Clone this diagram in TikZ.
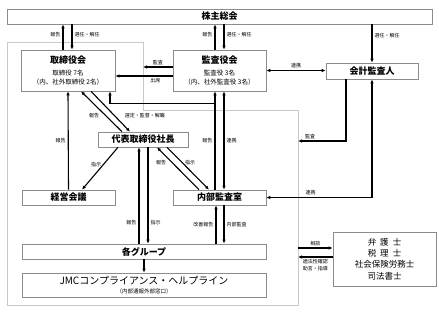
\documentclass[tikz,border=0pt]{standalone}
\usepackage{fontspec}
\setmainfont{Noto Sans CJK JP}
\usetikzlibrary{arrows.meta, positioning, calc}
\definecolor{grisMarco}{HTML}{C8C8C8}
\definecolor{grisCaja}{HTML}{8C8C8C}
\newcommand{\chico}{\mdseries\fontsize{6.5}{8}\selectfont}

\begin{document}
\begin{tikzpicture}[x=1pt, y=-1pt,
        caja/.style={draw=grisCaja, fill=white, line width=0.6pt, align=center, inner sep=0pt,
            font=\bfseries\fontsize{9}{11}\selectfont},
        marco/.style={draw=grisMarco, line width=0.7pt},
        rel/.style={-{Latex[length=4pt,width=3.5pt]}, line width=1.1pt},
        rel2/.style={{Latex[length=4pt,width=3.5pt]}-{Latex[length=4pt,width=3.5pt]}, line width=1.1pt},
        lbl/.style={font=\fontsize{5}{6}\selectfont, inner sep=2pt, align=center}
    ]
        \useasboundingbox (0,0) rectangle (439,315);
        \coordinate (fnotch) at (143,42);
        \coordinate (fright) at (298,110);
        \coordinate (fkansa) at (298,141);
        \draw[marco] (7,42) -- (fnotch) -- (143,110) -- (fright) -- (298,305) -- (7,305) -- cycle;

        \node[caja, minimum width=425pt, minimum height=15pt] (soukai) at (219.5,16.5) {株主総会};
        \node[caja, minimum width=94pt, minimum height=41pt] (torishimari) at (68,70.5)
            {取締役会\\[1pt]{\chico 取締役 7名}\\[-2pt]{\chico（内、社外取締役 2名）}};
        \node[caja, minimum width=93pt, minimum height=41pt] (kansa) at (219.5,70.5)
            {監査役会\\[1pt]{\chico 監査役 3名}\\[-2pt]{\chico（内、社外監査役 3名）}};
        \node[caja, minimum width=92pt, minimum height=16pt] (kaikei) at (372,71) {会計監査人};
        \node[caja, minimum width=90pt, minimum height=15pt] (daihyo) at (143,139.5) {代表取締役社長};
        \node[caja, minimum width=93pt, minimum height=15pt] (keiei) at (68.5,197.5) {経営会議};
        \node[caja, minimum width=93pt, minimum height=15pt] (naibu) at (219.5,197.5) {内部監査室};
        \node[caja, minimum width=244pt, minimum height=15pt] (grupo) at (144,251.5) {各グループ};
        \node[caja, minimum width=244pt, minimum height=24pt] (jmc) at (144,285)
            {{\mdseries\fontsize{10}{11}\selectfont JMCコンプライアンス・ヘルプライン}\\[-2pt]{\mdseries\fontsize{5.5}{6}\selectfont （内部通報外部窓口）}};
        \node[caja, minimum width=103pt, minimum height=54pt, font=\fontsize{8.5}{11.3}\selectfont] (senmon) at (384.5,259)
            {弁\hspace{4pt}護\hspace{4pt}士\\税\hspace{4pt}理\hspace{4pt}士\\社会保険労務士\\司法書士};

        % shareholders
        \draw[rel] ([xshift=-5pt]torishimari.north) -- ([xshift=-5pt]torishimari.north |- soukai.south) node[lbl, pos=.6, left]{報告};
        \draw[rel] ([xshift=4pt]torishimari.north |- soukai.south) -- ([xshift=4pt]torishimari.north) node[lbl, pos=.4, right]{選任・解任};
        \draw[rel] ([xshift=-4.5pt]kansa.north) -- ([xshift=-4.5pt]kansa.north |- soukai.south) node[lbl, pos=.6, left]{報告};
        \draw[rel] ([xshift=4.5pt]kansa.north |- soukai.south) -- ([xshift=4.5pt]kansa.north) node[lbl, pos=.4, right]{選任・解任};
        \draw[rel] (kaikei.north |- soukai.south) -- (kaikei.north) node[lbl, pos=.3, right]{選任・解任};

        % audit board
        \draw[rel] ([yshift=3.5pt]kansa.west) -- ([yshift=3.5pt]kansa.west -| fnotch) node[lbl, midway, above]{監査};
        \draw[rel] ([yshift=-5.5pt]kansa.west) -- ([yshift=-5.5pt]kansa.west -| torishimari.east) node[lbl, pos=.3, below]{出席};
        \draw[rel2] (kansa.east) -- (kansa.east -| kaikei.west) node[lbl, midway, above]{連携};
        \draw[rel] ([xshift=-26pt]kaikei.south) |- (fkansa) node[lbl, pos=.875, above]{監査};
        \draw[rel2] (kaikei.south) |- (naibu.east) node[lbl, pos=.79, above]{連携};

        % board and president
        \draw[rel] (keiei.north) -- (torishimari.south) node[lbl, midway, left]{報告};
        \draw[rel] ([xshift=-21pt]daihyo.north) -- node[lbl, pos=.4, left, xshift=-4pt]{報告} ([xshift=13pt]torishimari.south);
        \draw[rel] ([xshift=23pt]torishimari.south) -- node[lbl, pos=.6, right, xshift=8pt]{選定・監督・解職} ([xshift=-13pt]daihyo.north);
        \draw[rel] ([xshift=-25pt]daihyo.south) -- node[lbl, pos=.4, left]{指示} ([xshift=13.5pt]keiei.north);

        % internal audit
        \draw[rel] ([xshift=-4.5pt]naibu.north) -- ([xshift=-4.5pt]kansa.south) node[lbl, midway, left]{報告};
        \draw[rel] ([xshift=-4.5pt,yshift=-12pt]kansa.south) -| ([xshift=42pt]torishimari.south);
        \draw[rel2] ([xshift=4.5pt]kansa.south) -- ([xshift=4.5pt]naibu.north) node[lbl, midway, right]{連携};
        \draw[rel] ([xshift=-20.5pt]naibu.north) -- node[lbl, pos=.65, left, xshift=-3pt]{報告} ([xshift=14pt]daihyo.south);
        \draw[rel] ([xshift=24pt]daihyo.south) -- node[lbl, pos=.37, right]{指示} ([xshift=-10.5pt]naibu.north);

        % groups
        \draw[rel] ([xshift=-4pt]daihyo.south |- grupo.north) -- ([xshift=-4pt]daihyo.south) node[lbl, pos=.22, left]{報告};
        \draw[rel] ([xshift=5pt]daihyo.south) -- ([xshift=5pt]daihyo.south |- grupo.north) node[lbl, pos=.78, right]{指示};
        \draw[rel] ([xshift=-3.5pt]naibu.south |- grupo.north) -- ([xshift=-3.5pt]naibu.south) node[lbl, midway, left]{改善報告};
        \draw[rel] ([xshift=4.5pt]naibu.south) -- ([xshift=4.5pt]naibu.south |- grupo.north) node[lbl, midway, right]{内部監査};
        \draw[rel] (grupo.south) -- (jmc.north);

        % outside experts
        \draw[rel] ([yshift=11pt]senmon.west -| fright) -- ([yshift=11pt]senmon.west) node[lbl, midway, above]{相談};
        \draw[rel] ([yshift=2pt]senmon.west) -- ([yshift=2pt]senmon.west -| fright) node[lbl, midway, below]{適法性確認\\[1pt]助言・指導};
    \end{tikzpicture}
\end{document}
